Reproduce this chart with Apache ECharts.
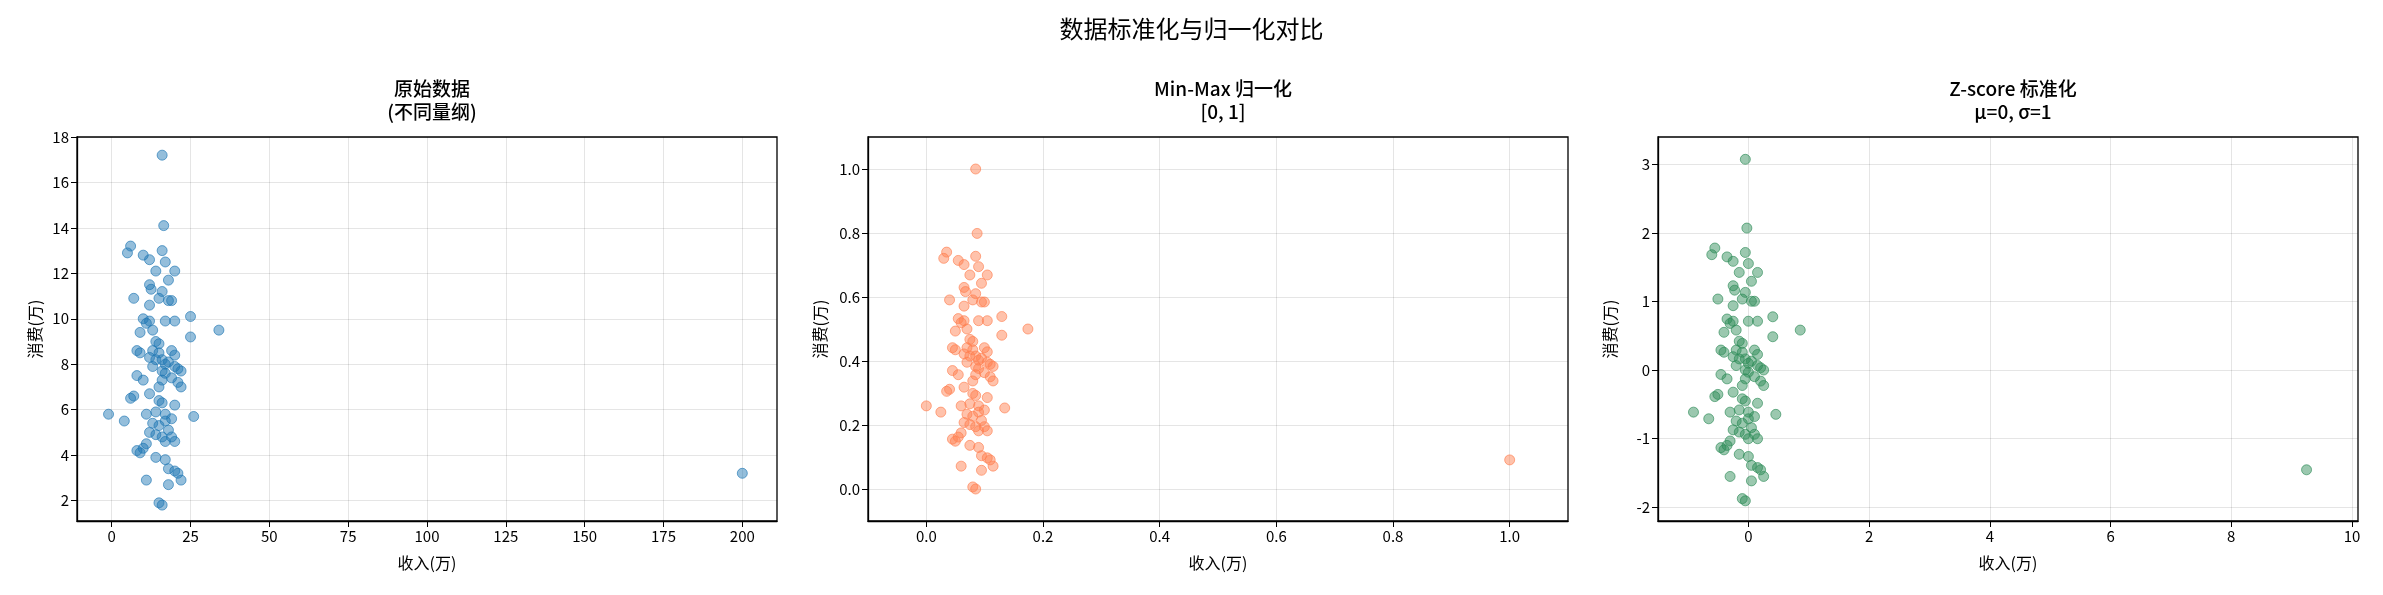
<!DOCTYPE html>
<html><head><meta charset="utf-8">
<script src="https://cdn.jsdelivr.net/npm/echarts@6/dist/echarts.min.js"></script>
<style>html,body{margin:0;padding:0;background:#fff}#c{width:2383px;height:595px}</style>
</head><body><div id="c"></div>
<script>
// raw data: income (万), spending (万)
const income = [16,16.5,6,5,10,12,16,17,14,20,18,12,12.5,16,7,15,18,19,12,25,10,12,17,11,20,34,13,9,25,14,15,13,8,9,15,19,20,12,14,16,17,18,20,21,22,13,16,17,19,21,16,15,8,10,22,12,7,6,15,16,20,14,17,11,-1,26,4,19,17,13,15,18,12,14,16,19,17,20,11,10,9,8,14,17,18,20,21,22,11,18,15,16,200];
const spend  = [17.2,14.1,13.2,12.9,12.8,12.6,13,12.5,12.1,12.1,11.7,11.5,11.3,11.2,10.9,10.9,10.8,10.8,10.6,10.1,10,9.9,9.9,9.8,9.9,9.5,9.5,9.4,9.2,9,8.9,8.6,8.6,8.5,8.5,8.6,8.4,8.3,8.2,8.2,8.0,8.1,7.9,7.8,7.7,7.9,7.7,7.6,7.4,7.2,7.3,7.0,7.5,7.3,7.0,6.7,6.6,6.5,6.4,6.3,6.2,5.9,5.8,5.8,5.8,5.7,5.5,5.6,5.5,5.4,5.3,5.1,5.0,4.9,4.8,4.8,4.6,4.6,4.5,4.3,4.1,4.2,3.9,3.8,3.4,3.3,3.2,2.9,2.9,2.7,1.9,1.8,3.2];
const titles = ['原始数据\n(不同量纲)', 'Min-Max 归一化\n[0, 1]', 'Z-score 标准化\nμ=0, σ=1'];
const xTicks = [[0,25,50,75,100,125,150,175,200],[0,0.2,0.4,0.6,0.8,1.0],[0,2,4,6,8,10]];
const yTicks = [[2,4,6,8,10,12,14,16,18],[0,0.2,0.4,0.6,0.8,1.0],[-2,-1,0,1,2,3]];
const xRange = [[-11,211],[-0.1,1.1],[-1.5,10.1]];
const yRange = [[1.1,18],[-0.1,1.1],[-2.2,3.4]];
const decimals = [0,1,0];
const colors = ['rgba(31,119,180,0.6)','rgba(255,127,80,0.6)','rgba(46,139,87,0.6)'];

// the chart's own transforms of the raw data
function minmax(a){const mn=Math.min(...a),mx=Math.max(...a);return a.map(v=>(v-mn)/(mx-mn));}
function zscore(a){const m=a.reduce((s,v)=>s+v,0)/a.length;const sd=Math.sqrt(a.reduce((s,v)=>s+(v-m)*(v-m),0)/a.length);return a.map(v=>(v-m)/sd);}
const sets = [
  income.map((v,i)=>[v,spend[i]]),
  (()=>{const x=minmax(income),y=minmax(spend);return x.map((v,i)=>[v,y[i]]);})(),
  (()=>{const x=zscore(income),y=zscore(spend);return x.map((v,i)=>[v,y[i]]);})()
];

const lefts=[77,868,1658], W=700, TOP=137, H=384;
const font='"Noto Sans CJK SC", "DejaVu Sans", sans-serif';
const opt={animation:false,backgroundColor:'#fff',
 title:[{text:'数据标准化与归一化对比',left:'center',top:12,textStyle:{fontFamily:font,fontSize:24,fontWeight:'normal',color:'#000'}}],
 grid:[],xAxis:[],yAxis:[],series:[]};
for(let k=0;k<3;k++){
  const d=decimals[k];
  opt.title.push({text:titles[k],left:lefts[k]+W/2,top:72,textAlign:'center',
    textStyle:{fontFamily:font,fontSize:19,fontWeight:500,color:'#000',lineHeight:23}});
  opt.grid.push({left:lefts[k],top:TOP,width:W,height:H,show:true,borderColor:'#000',borderWidth:1.3});
  const axBase={axisLine:{show:true,onZero:false,lineStyle:{color:'#000',width:1.3}},
    splitLine:{show:false},
    nameTextStyle:{fontFamily:font,fontSize:16,color:'#000'},nameLocation:'middle'};
  opt.xAxis.push(Object.assign({},axBase,{type:'value',gridIndex:k,min:xRange[k][0],max:xRange[k][1],name:'收入(万)',nameGap:34,
    axisTick:{show:true,length:6,customValues:xTicks[k],lineStyle:{color:'#000'}},
    axisLabel:{customValues:xTicks[k],fontFamily:font,fontSize:15,color:'#000',formatter:v=>d?(+v).toFixed(d):String(Math.round(v))}}));
  opt.yAxis.push(Object.assign({},axBase,{type:'value',gridIndex:k,min:yRange[k][0],max:yRange[k][1],name:'消费(万)',nameGap:k==0?34:40,
    axisTick:{show:true,length:6,customValues:yTicks[k],lineStyle:{color:'#000'}},
    axisLabel:{customValues:yTicks[k],fontFamily:font,fontSize:15,color:'#000',formatter:v=>d?(+v).toFixed(d):String(Math.round(v))}}));
  opt.series.push({type:'scatter',xAxisIndex:k,yAxisIndex:k,data:sets[k],symbolSize:10,
    itemStyle:{color:colors[k],borderColor:colors[k].replace('0.6','0.8'),borderWidth:1},
    markLine:{silent:true,symbol:'none',label:{show:false},animation:false,z:0,
      lineStyle:{color:'rgba(0,0,0,0.1)',type:'solid',width:1},
      data:xTicks[k].map(v=>({xAxis:v})).concat(yTicks[k].map(v=>({yAxis:v})))}});
}
echarts.init(document.getElementById('c')).setOption(opt);
</script></body></html>
